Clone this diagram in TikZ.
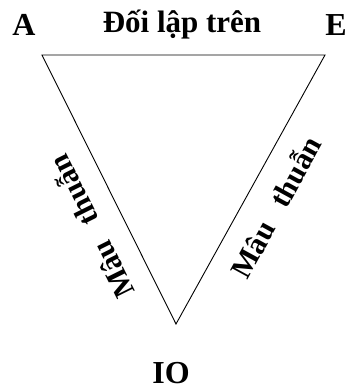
\documentclass[tikz,border=0pt]{standalone}
\usepackage{fontspec}
\setmainfont{Liberation Serif}
\usetikzlibrary{positioning}

\begin{document}
\begin{tikzpicture}[x=1pt, y=-1pt,
  vertexlabel/.style={font=\bfseries\fontsize{32}{36}\selectfont, inner sep=0pt, anchor=base},
  toplabel/.style={font=\bfseries\fontsize{31}{36}\selectfont, inner sep=0pt, anchor=base},
  edgelabel/.style={font=\bfseries\fontsize{30}{34}\selectfont, inner sep=0pt},
  side/.style={line width=0.9pt}
]
\useasboundingbox (0,0) rectangle (352,392);

% Corners of the triangle
\coordinate (cA) at (42,55);
\coordinate (cE) at (325,55);
\coordinate (cIO) at (176,324);

% Vertex names
\node[vertexlabel] (lA) at (24,35) {A};
\node[vertexlabel] (lE) at (336,35) {E};
\node[vertexlabel] (lIO) at (171,383) {IO};

% Sides
\draw[side] (cA) -- (cE) -- (cIO) -- cycle;

% Relations on the sides
\node[toplabel] (top) at (182,32) {Đối lập trên};
\node[edgelabel, rotate=116.5] (left) at (91,227) {Mâu\hspace{0.7em}thuẫn};
\node[edgelabel, rotate=61.3] (right) at (275,207) {Mâu\hspace{0.7em}thuẫn};

\end{tikzpicture}
\end{document}
